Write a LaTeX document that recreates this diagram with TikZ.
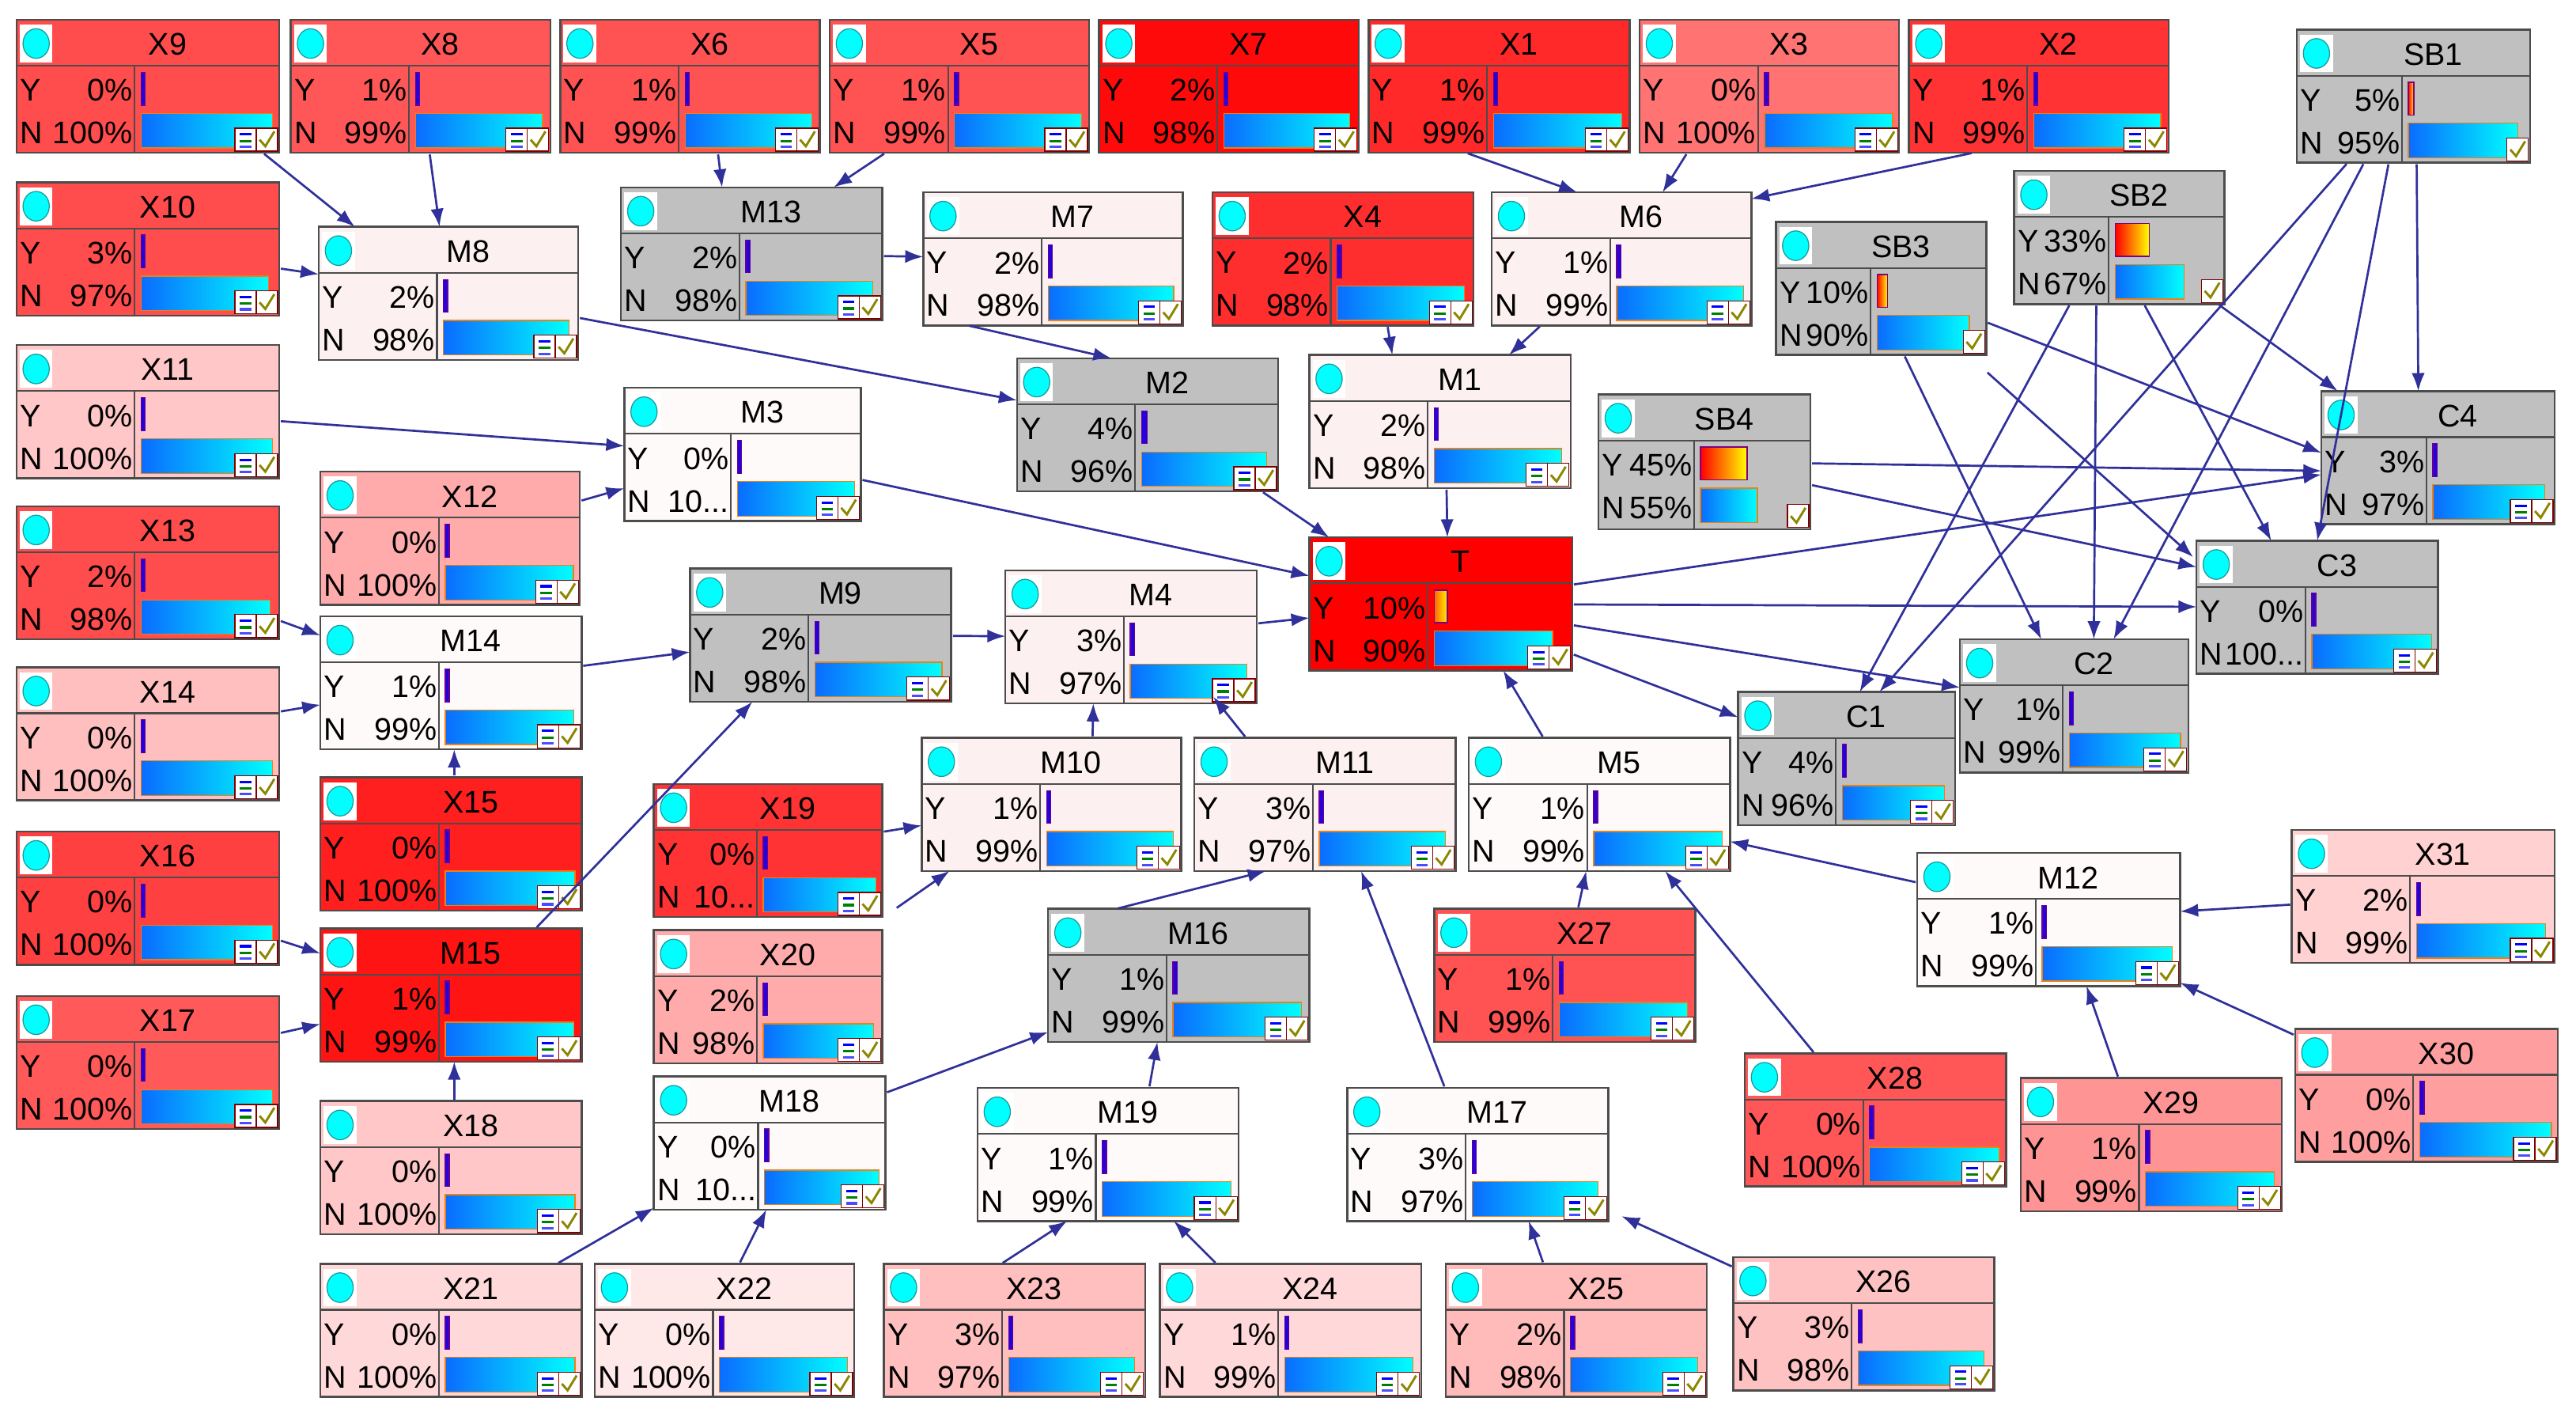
\documentclass[tikz,border=0pt]{standalone}
\usepackage{fontspec}
\setmainfont{Liberation Sans}
\usetikzlibrary{arrows.meta,calc}
\definecolor{edge}{HTML}{30309A}
\definecolor{gr}{HTML}{C0C0C0}
\definecolor{lm}{HTML}{FDF0F0}
\definecolor{wh}{HTML}{FFFAFA}
\definecolor{cy}{HTML}{00FFFF}
\definecolor{bl}{HTML}{0A6CFF}
\definecolor{cyd}{HTML}{1A9A9A}
\tikzset{
  bn/.style={draw=black!70,line width=1.2pt,anchor=north west,inner sep=0pt,outer sep=0pt},
  ed/.style={draw=edge,line width=1.3pt,-{Latex[length=11pt,width=8pt]},shorten <=1pt},
  tx/.style={inner sep=0pt,font=\fontsize{19}{20}\selectfont},
}
% #1 name #2 x1 #3 y1 #4 x2 #5 y2 #6 fill #7 Y #8 Ntext #9 kind
\newcommand\bnd[9]{%
  \pgfmathsetmacro\W{#4-#2}\pgfmathsetmacro\H{#5-#3}%
  \pgfmathsetmacro\lc{\W>150?72:0.45*\W}%
  \pgfmathsetmacro\bx{#2+\lc+4}\pgfmathsetmacro\av{\W-\lc-8}%
  \pgfmathsetmacro\yb{max(2.5,#7/100*\av)}\pgfmathsetmacro\nb{(100-#7)/100*\av}%
  \node[bn,fill=#6,minimum width=\W pt,minimum height=\H pt] (#1) at (#2,#3) {};
  \draw[black!70,line width=1pt] (#2,#3+28) -- (#4,#3+28) (#2+\lc,#3+28) -- (#2+\lc,#5);
  \fill[white] (#2+2,#3+3) rectangle (#2+22,#3+26);
  \draw[fill=cy,draw=cyd,line width=0.6pt] (#2+12,#3+14.5) ellipse (8 and 9);
  \node[tx] at ({(#2+#4)/2+12},#3+15) {#1};
  \node[tx,anchor=west] at (#2+2,#3+43) {Y};
  \node[tx,anchor=east] at (#2+\lc-1,#3+43) {#7\%};
  \node[tx,anchor=west] at (#2+2,#3+69) {N};
  \node[tx,anchor=east] at (#2+\lc-1,#3+69) {#8};
  \ifcase#9
    \draw[draw=violet!80!blue,fill=blue!70!violet,line width=0.6pt] (\bx,#3+32) rectangle ++(\yb,20);
  \or
    \draw[draw=violet,left color=orange!80!red,right color=yellow!90!orange,line width=0.8pt] (\bx,#3+32) rectangle ++(\yb,20);
  \or
    \draw[draw=violet,left color=red,right color=yellow,line width=0.8pt] (\bx,#3+32) rectangle ++(\yb,20);
  \fi
  \draw[draw=orange!70!brown,left color=bl,right color=cy,line width=0.6pt] (\bx,#3+57) rectangle ++(\nb,21);
  \ifnum#9<2
    \draw[draw=red!50!black,fill=white,line width=0.6pt] (#4-27,#5-15) rectangle (#4-14,#5-1);
    \fill[blue] (#4-24,#5-12) rectangle ++(7,1.5);
    \fill[green!50!black] (#4-24,#5-8) rectangle ++(7,1.5);
    \fill[blue!70] (#4-24,#5-4.5) rectangle ++(7,1.5);
  \fi
  \draw[draw=red!50!black,fill=white,line width=0.6pt] (#4-14,#5-15) rectangle (#4-1,#5-1);
  \draw[olive,line width=1.4pt] (#4-12,#5-8) -- (#4-8.5,#5-4) -- (#4-3,#5-13);
}
\begin{document}
\begin{tikzpicture}[x=1pt,y=-1pt]
\useasboundingbox[fill=white] (0,0) rectangle (1568,862);
\bnd{X9}{10}{12}{170}{93}{red!70!white}{0}{100\%}{0}
\bnd{X8}{177}{12}{335}{93}{red!66!white}{1}{99\%}{0}
\bnd{X6}{341}{12}{499}{93}{red!68!white}{1}{99\%}{0}
\bnd{X5}{505}{12}{663}{93}{red!68!white}{1}{99\%}{0}
\bnd{X7}{669}{12}{827}{93}{red!96!white}{2}{98\%}{0}
\bnd{X1}{833}{12}{992}{93}{red!84!white}{1}{99\%}{0}
\bnd{X3}{998}{12}{1156}{93}{red!55!white}{0}{100\%}{0}
\bnd{X2}{1162}{12}{1320}{93}{red!80!white}{1}{99\%}{0}
\bnd{SB1}{1398}{18}{1540}{99}{gr}{5}{95\%}{2}
\bnd{X10}{10}{111}{170}{192}{red!70!white}{3}{97\%}{0}
\bnd{M8}{194}{138}{352}{219}{lm}{2}{98\%}{0}
\bnd{M13}{378}{114}{537}{195}{gr}{2}{98\%}{0}
\bnd{M7}{562}{117}{720}{198}{lm}{2}{98\%}{0}
\bnd{X4}{738}{117}{897}{198}{red!82!white}{2}{98\%}{0}
\bnd{M6}{908}{117}{1066}{198}{lm}{1}{99\%}{0}
\bnd{SB2}{1226}{104}{1354}{185}{gr}{33}{67\%}{2}
\bnd{SB3}{1081}{135}{1209}{216}{gr}{10}{90\%}{2}
\bnd{X11}{10}{210}{170}{291}{red!22!white}{0}{100\%}{0}
\bnd{M3}{380}{236}{524}{317}{wh}{0}{10...}{0}
\bnd{M2}{619}{218}{778}{299}{gr}{4}{96\%}{0}
\bnd{M1}{797}{216}{956}{297}{lm}{2}{98\%}{0}
\bnd{SB4}{973}{240}{1102}{322}{gr}{45}{55\%}{2}
\bnd{C4}{1413}{238}{1555}{319}{gr}{3}{97\%}{0}
\bnd{X12}{195}{287}{353}{368}{red!33!white}{0}{100\%}{0}
\bnd{X13}{10}{308}{170}{389}{red!70!white}{2}{98\%}{0}
\bnd{T}{797}{327}{957}{408}{red}{10}{90\%}{1}
\bnd{C3}{1337}{329}{1484}{410}{gr}{0}{100...}{0}
\bnd{M9}{420}{346}{579}{427}{gr}{2}{98\%}{0}
\bnd{M4}{612}{347}{765}{428}{lm}{3}{97\%}{0}
\bnd{M14}{195}{375}{354}{456}{wh}{1}{99\%}{0}
\bnd{X14}{10}{406}{170}{487}{red!25!white}{0}{100\%}{0}
\bnd{C2}{1193}{389}{1332}{470}{gr}{1}{99\%}{0}
\bnd{C1}{1058}{421}{1190}{502}{gr}{4}{96\%}{0}
\bnd{M10}{561}{449}{719}{530}{lm}{1}{99\%}{0}
\bnd{M11}{727}{449}{886}{530}{lm}{3}{97\%}{0}
\bnd{M5}{894}{449}{1053}{530}{wh}{1}{99\%}{0}
\bnd{X15}{195}{473}{354}{554}{red!88!white}{0}{100\%}{0}
\bnd{X19}{398}{477}{537}{558}{red!80!white}{0}{10...}{0}
\bnd{X16}{10}{506}{170}{587}{red!75!white}{0}{100\%}{0}
\bnd{M12}{1167}{519}{1327}{600}{wh}{1}{99\%}{0}
\bnd{X31}{1395}{505}{1555}{586}{red!18!white}{2}{99\%}{0}
\bnd{M15}{195}{565}{354}{646}{red!92!white}{1}{99\%}{0}
\bnd{X20}{398}{566}{537}{647}{red!33!white}{2}{98\%}{0}
\bnd{M16}{638}{553}{797}{634}{gr}{1}{99\%}{0}
\bnd{X27}{873}{553}{1032}{634}{red!68!white}{1}{99\%}{0}
\bnd{X17}{10}{606}{170}{687}{red!65!white}{0}{100\%}{0}
\bnd{X30}{1397}{626}{1557}{707}{red!38!white}{0}{100\%}{0}
\bnd{X28}{1062}{641}{1221}{722}{red!66!white}{0}{100\%}{0}
\bnd{X29}{1230}{656}{1389}{737}{red!42!white}{1}{99\%}{0}
\bnd{M18}{398}{655}{539}{736}{wh}{0}{10...}{0}
\bnd{M19}{595}{662}{754}{743}{wh}{1}{99\%}{0}
\bnd{M17}{820}{662}{979}{743}{wh}{3}{97\%}{0}
\bnd{X18}{195}{670}{354}{751}{red!22!white}{0}{100\%}{0}
\bnd{X21}{195}{769}{354}{850}{red!15!white}{0}{100\%}{0}
\bnd{X22}{362}{769}{520}{850}{red!9!white}{0}{100\%}{0}
\bnd{X23}{538}{769}{697}{850}{red!25!white}{3}{97\%}{0}
\bnd{X24}{706}{769}{865}{850}{red!15!white}{1}{99\%}{0}
\bnd{X25}{880}{769}{1039}{850}{red!27!white}{2}{98\%}{0}
\bnd{X26}{1055}{765}{1214}{846}{red!24!white}{3}{98\%}{0}
% edges
\draw[ed] ($(X9.south east)+(-10,0)$) -- ($(M8.north west)+(22,0)$);
\draw[ed] (X8) -- (M8);
\draw[ed] (X10) -- (M8);
\draw[ed] ($(X6.south)+(17,0)$) -- ($(M13.north)+(-18,0)$);
\draw[ed] ($(X5.south)+(-45,0)$) -- ($(M13.north)+(50,0)$);
\draw[ed] (M13) -- (M7);
\draw[ed] ($(X1.south)+(-20,0)$) -- ($(M6.north)+(-27,0)$);
\draw[ed] ($(X3.south)+(-50,0)$) -- ($(M6.north)+(25,0)$);
\draw[ed] ($(X2.south)+(-40,0)$) -- ($(M6.north east)+(0,4)$);
\draw[ed] (M8) -- (M2);
\draw[ed] ($(M7.south)+(-52,0)$) -- ($(M2.north)+(-22,0)$);
\draw[ed] ($(X4.south)+(27,0)$) -- ($(M1.north)+(-29,0)$);
\draw[ed] ($(M6.south)+(-49,0)$) -- ($(M1.north)+(42,0)$);
\draw[ed] (X11) -- (M3);
\draw[ed] (X12) -- (M3);
\draw[ed] (M3) -- (T);
\draw[ed] ($(M2.south east)+(-10,0)$) -- ($(T.north west)+(12,0)$);
\draw[ed] ($(M1.south)+(4,0)$) -- ($(T.north)+(4,0)$);
\draw[ed] (M4) -- (T);
\draw[ed] ($(M5.north)+(-34,0)$) -- ($(T.south)+(38,0)$);
\draw[ed] (T) -- (C1);
\draw[ed] (T) -- (C2);
\draw[ed] (T) -- (C3);
\draw[ed] (T) -- (C4);
\draw[ed] ($(SB1.south)+(-40,0)$) -- ($(C1.north)+(20,0)$);
\draw[ed] ($(SB1.south)+(-30,0)$) -- ($(C2.north)+(24,0)$);
\draw[ed] ($(SB1.south)+(-15,0)$) -- ($(C3.north)+(0,0)$);
\draw[ed] ($(SB1.south)+(2,0)$) -- ($(C4.north)+(-12,0)$);
\draw[ed] ($(SB2.south)+(-30,0)$) -- ($(C1.north)+(8,0)$);
\draw[ed] ($(SB2.south)+(-14,0)$) -- ($(C2.north)+(12,0)$);
\draw[ed] ($(SB2.south)+(15,0)$) -- ($(C3.north)+(-28,0)$);
\draw[ed] ($(SB2.south east)+(-4,0)$) -- ($(C4.north west)+(10,0)$);
\draw[ed] ($(SB3.south east)+(0,-20)$) -- ($(C4.west)+(0,-3)$);
\draw[ed] ($(SB3.south)+(14,0)$) -- ($(C2.north)+(-20,0)$);
\draw[ed] ($(SB3.south east)+(0,10)$) -- ($(C3.north west)+(-2,10)$);
\draw[ed] (SB4) -- ($(C4.west)+(0,8)$);
\draw[ed] ($(SB4.east)+(0,14)$) -- ($(C3.north west)+(0,16)$);
\draw[ed] (X13) -- (M14);
\draw[ed] (X14) -- (M14);
\draw[ed] (M14) -- (M9);
\draw[ed] (M9) -- (M4);
\draw[ed] ($(X15.north)+(2,0)$) -- ($(M14.south)+(2,0)$);
\draw[ed] ($(M15.north east)+(-28,0)$) -- ($(M9.south west)+(38,0)$);
\draw[ed] ($(M10.north)+(25,0)$) -- ($(M4.south)+(-23,0)$);
\draw[ed] ($(M11.north)+(-48,0)$) -- ($(M4.south)+(50,-4)$);
\draw[ed] (X19) -- (M10);
\draw[ed] ($(X20.north east)+(8,-13)$) -- ($(M10.south west)+(17,0)$);
\draw[ed] (X16) -- (M15);
\draw[ed] (X17) -- (M15);
\draw[ed] ($(X18.north)+(2,0)$) -- ($(M15.south)+(2,0)$);
\draw[ed] ($(M16.north)+(-38,0)$) -- ($(M11.south)+(-36,0)$);
\draw[ed] ($(M17.north)+(-20,0)$) -- ($(M11.south)+(22,0)$);
\draw[ed] ($(M18.north east)+(0,10)$) -- ($(M16.south west)+(0,-6)$);
\draw[ed] ($(M19.north)+(25,0)$) -- ($(M16.south)+(-13,0)$);
\draw[ed] ($(X21.north east)+(-15,0)$) -- ($(M18.south west)+(0,-1)$);
\draw[ed] ($(X22.north)+(9,0)$) -- ($(M18.south)+(-2,0)$);
\draw[ed] ($(X23.north)+(-8,0)$) -- ($(M19.south)+(-25,0)$);
\draw[ed] ($(X24.north)+(-45,0)$) -- ($(M19.south)+(40,0)$);
\draw[ed] ($(X25.north)+(-20,0)$) -- ($(M17.south)+(31,0)$);
\draw[ed] ($(X26.north west)+(0,6)$) -- ($(M17.south east)+(8,-3)$);
\draw[ed] ($(X27.north)+(8,0)$) -- ($(M5.south)+(-8,0)$);
\draw[ed] ($(X28.north)+(-37,0)$) -- ($(M5.south)+(40,0)$);
\draw[ed] ($(M12.north west)+(0,18)$) -- ($(M5.south east)+(0,-18)$);
\draw[ed] (X31) -- (M12);
\draw[ed] ($(X29.north)+(-20,0)$) -- ($(M12.south)+(23,0)$);
\draw[ed] ($(X30.north west)+(0,4)$) -- ($(M12.south east)+(0,-2)$);
\end{tikzpicture}
\end{document}
